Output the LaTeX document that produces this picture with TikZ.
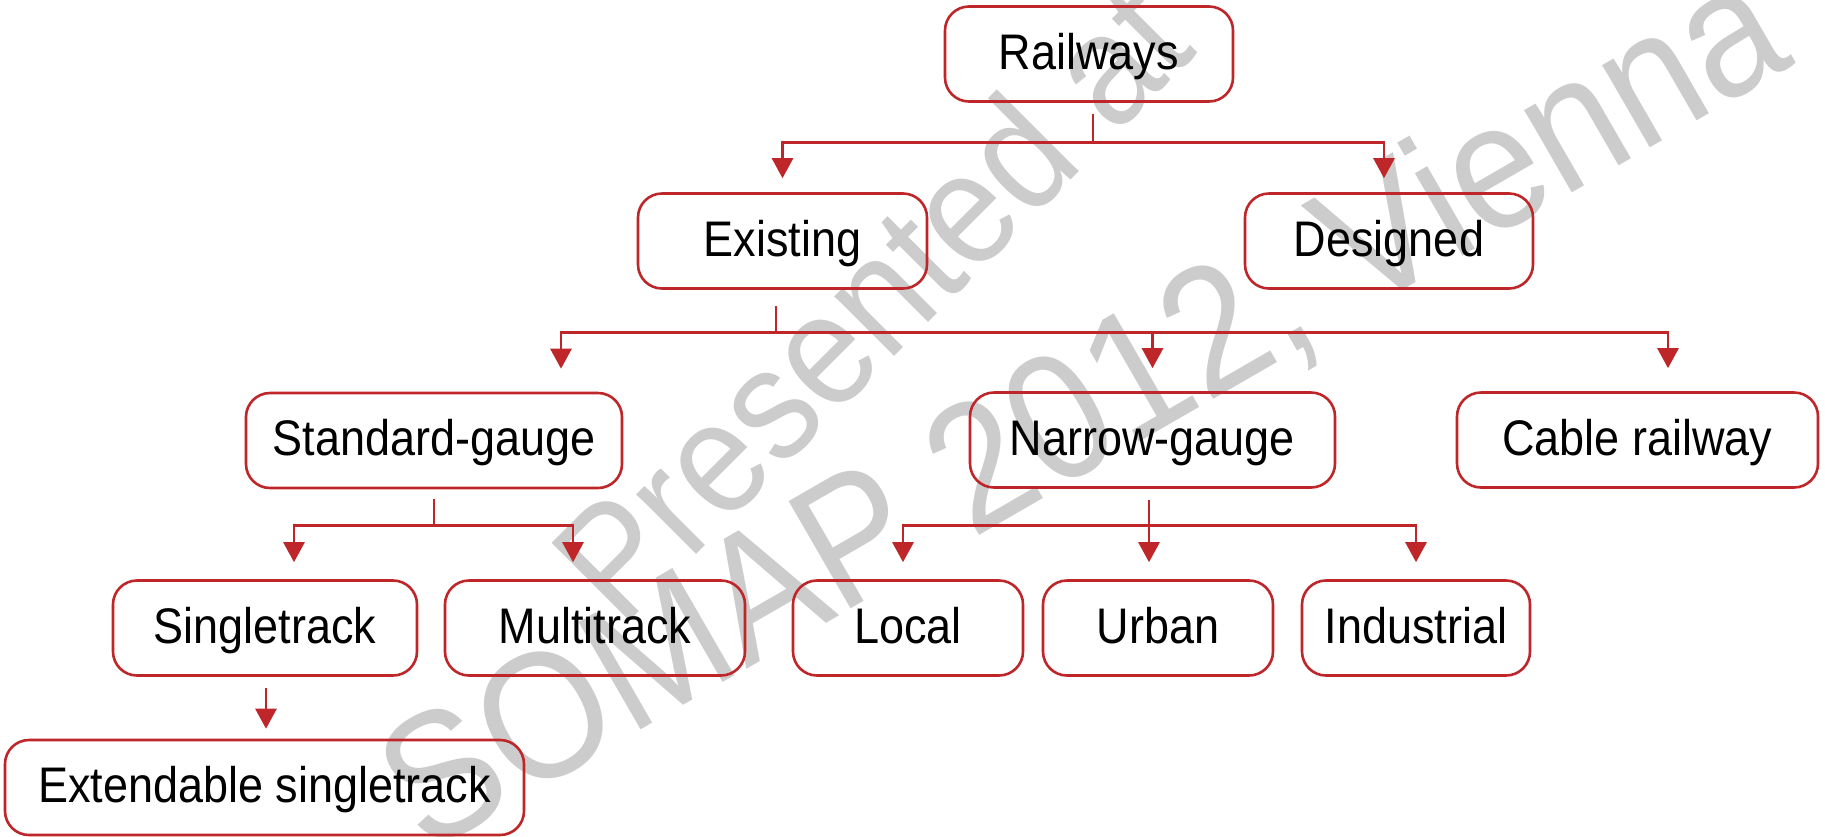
\documentclass[tikz,border=0pt]{standalone}
\usepackage{fontspec}
\setmainfont{Liberation Sans}[FakeStretch=0.9]
\usetikzlibrary{arrows.meta,calc}
\definecolor{rred}{RGB}{190,38,42}

\begin{document}
\begin{tikzpicture}[
  x=0.5pt, y=-0.5pt,
  box/.style={draw=rred, line width=1.3pt, rounded corners=12pt, minimum height=47.5pt, inner sep=0pt,
    font=\fontsize{25}{30}\selectfont, text height=19pt, text depth=4pt},
  link/.style={draw=rred, line width=1.4pt},
  arr/.style={link, -{Triangle[width=10.5pt,length=10pt]}, shorten >=#1}, arr/.default=7pt,
  wm/.style={text=gray!40, inner sep=0pt}
]
  \useasboundingbox (0,0) rectangle (1825,836);
  % watermark
  \node[wm, rotate=45, font=\fontsize{80}{90}\selectfont] (wmA) at (870,300) {Presented at};
  \node[wm, rotate=30, font=\fontsize{90}{100}\selectfont] (wmB) at (1085,412) {SOMAP 2012, Vienna};

  % boxes
  \node[box, minimum width=144pt] (rail) at (1089,54) {Railways};
  \node[box, minimum width=144.5pt] (exist) at (782.5,241) {Existing};
  \node[box, minimum width=144pt] (design) at (1389,241) {Designed};
  \node[box, minimum width=188pt] (std) at (434,440.5) {Standard-gauge};
  \node[box, minimum width=182.5pt] (narrow) at (1152.5,440) {Narrow-gauge};
  \node[box, minimum width=180.5pt] (cable) at (1637.5,440) {Cable railway};
  \node[box, minimum width=152pt] (single) at (265,628) {Singletrack};
  \node[box, minimum width=150pt] (multi) at (595,628) {Multitrack};
  \node[box, minimum width=115pt] (local) at (908,628) {Local};
  \node[box, minimum width=115pt] (urban) at (1158,628) {Urban};
  \node[box, minimum width=114pt] (indus) at (1416,628) {Industrial};
  \node[box, minimum width=259.5pt] (ext) at (264.5,787.5) {Extendable singletrack};

  % Railways
  \coordinate (b0) at ($(rail.south)+(4,40)$);
  \draw[link] ($(rail.south)+(4,11)$) -- (b0);
  \draw[arr] (b0) -| (exist.north);
  \draw[arr] (b0) -| ($(design.north)+(-5,0)$);

  % Existing
  \coordinate (b1) at ($(exist.south)+(-6.5,43)$);
  \draw[link] ($(exist.south)+(-6.5,16)$) -- (b1);
  \draw[arr=11.5pt] (b1) -| ($(std.north)+(127,0)$);
  \draw[arr=11.5pt] (b1) -| (narrow.north);
  \draw[arr=11.5pt] (b1) -| ($(cable.north)+(30.5,0)$);

  % Standard-gauge
  \coordinate (b2) at ($(std.south)+(0,36)$);
  \draw[link] ($(std.south)+(0,10)$) -- (b2);
  \draw[arr=8.5pt] (b2) -| ($(single.north)+(29,0)$);
  \draw[arr=8.5pt] (b2) -| ($(multi.north)+(-22,0)$);

  % Narrow-gauge
  \coordinate (b3) at ($(narrow.south)+(-3.5,37)$);
  \draw[arr=8.5pt] ($(narrow.south)+(-3.5,11)$) -- (b3 |- urban.north);
  \draw[arr=8.5pt] (b3) -| ($(local.north)+(-5,0)$);
  \draw[arr=8.5pt] (b3) -| (indus.north);

  % Singletrack
  \draw[arr=5pt] ($(single.south)+(1,11)$) -- ($(ext.north)+(1.5,0)$);
\end{tikzpicture}
\end{document}
